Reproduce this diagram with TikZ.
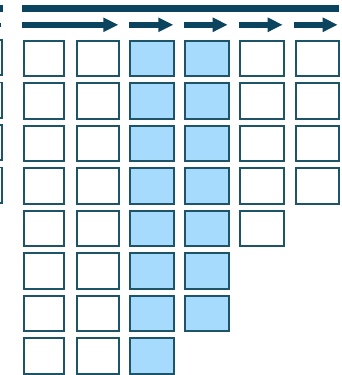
\documentclass[tikz,border=0pt]{standalone}
\usetikzlibrary{arrows.meta}
\definecolor{navy}{HTML}{0B445E}
\definecolor{edge}{HTML}{1E5468}
\definecolor{lblue}{HTML}{A6DBFD}
\tikzset{
  cell/.style={draw=edge, line width=1.9pt, fill=white},
  bcell/.style={cell, fill=lblue},
  flow/.style={draw=navy, line width=6pt, -{Triangle[length=15pt,width=13.5pt]}},
  bar/.style={fill=navy, draw=none}
}
\begin{document}
\begin{tikzpicture}[x=1pt,y=-1pt]
\useasboundingbox (0,0) rectangle (342,375);
% top bar
\fill[navy] (21.7,4.8) rectangle (338.7,12.2);
\fill[navy] (0,4.8) rectangle (2.6,12.2);
% left fragment arrow piece
\fill[navy] (0,23) rectangle (1.2,26.5);
% arrows
\def\colL{{21.7,75,128.5,183.3,237.7,294.3}}
\def\colR{{64,119,174,228.7,283.7,338.7}}
\foreach \i/\l/\r in {1/21.7/118.3, 2/129.3/173.3, 3/184.3/227.7, 4/239.3/282.7, 5/294.3/337.7}{
  \coordinate (as\i) at (\l,24.8);
  \coordinate (ae\i) at (\r,24.8);
  \draw[flow] (as\i) -- (ae\i);
}
% cells: columns with (left, right, count, style)
\foreach \c/\l/\r/\n/\s in {1/21.7/64/8/cell, 2/75/119/8/cell, 3/128.5/174/8/bcell, 4/183.3/228.7/7/bcell, 5/237.7/283.7/5/cell, 6/294.3/338.7/4/cell}{
  \foreach \k in {1,...,\n}{
    \pgfmathsetmacro{\t}{39+42.5*(\k-1)}
    \node[\s, minimum width={\r-\l-1.9pt}, minimum height=35.2pt, inner sep=0pt, anchor=north west]
      (c\c-\k) at (\l+0.95,\t+0.95) {};
  }
}
% left fragment column
\foreach \k in {1,...,4}{
  \pgfmathsetmacro{\t}{39+42.5*(\k-1)}
  \draw[edge, line width=1.9pt] (-5,\t+0.95) -- (1.7,\t+0.95) -- (1.7,\t+36.1) -- (-5,\t+36.1);
}
\end{tikzpicture}
\end{document}
